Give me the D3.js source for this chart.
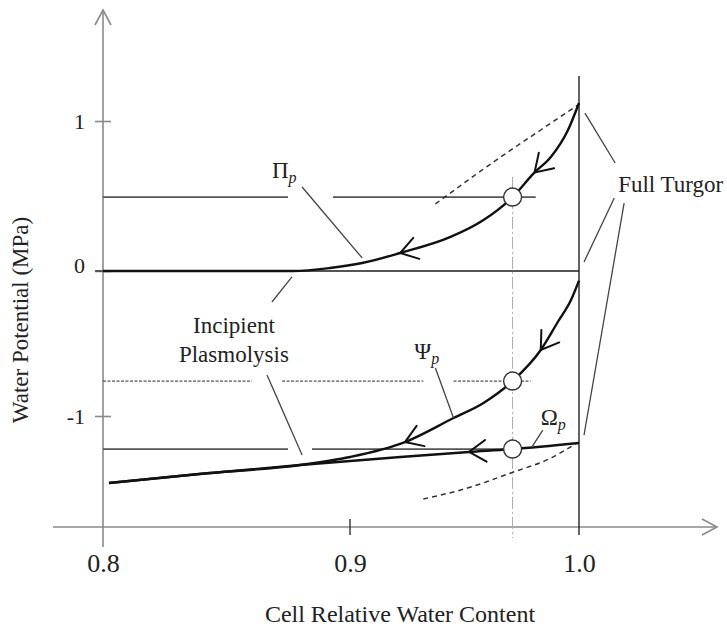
<!DOCTYPE html>
<html>
<head>
<meta charset="utf-8">
<script src="https://cdn.jsdelivr.net/npm/d3@7"></script>
<style>
  html, body { margin: 0; padding: 0; background: #fff; }
  svg { display: block; font-family: "Liberation Serif", "Times New Roman", serif; }
</style>
</head>
<body>
<svg id="chart" width="727" height="641"></svg>
<script>
// ---- data (x = cell relative water content, y = potential in MPa) ----
const xTicks = [0.8, 0.9, 1.0];
const xTickLabels = ["0.8", "0.9", "1.0"];
const yTicks = [1, 0, -1];
const yTickLabels = ["1", "0", "-1"];

// turgor (pressure) potential curve
const piX = [0.8, 0.8769, 0.8919, 0.9053, 0.9219, 0.9439, 0.9583, 0.971, 0.9803, 0.9877, 0.9952, 1.0];
const piY = [0, 0, 0.02, 0.053, 0.12, 0.227, 0.34, 0.493, 0.653, 0.76, 0.94, 1.12];

// water potential curve
const psiX = [0.8024, 0.839, 0.8798, 0.9, 0.924, 0.9452, 0.9583, 0.971, 0.9833, 0.9908, 0.9965, 1.0];
const psiY = [-1.462, -1.4, -1.338, -1.283, -1.18, -1.014, -0.91, -0.759, -0.545, -0.35, -0.2, -0.066];

// osmotic potential line
const omX = [0.8024, 0.839, 0.8798, 0.922, 0.952, 0.971, 1.0];
const omY = [-1.462, -1.4, -1.338, -1.283, -1.248, -1.228, -1.186];

// dashed guide curves
const upperDashX = [0.9373, 0.9658, 0.9833, 0.9996];
const upperDashY = [0.447, 0.76, 0.94, 1.107];
const lowerDashX = [0.932, 0.9513, 0.9702, 0.9877, 0.9991];
const lowerDashY = [-1.572, -1.497, -1.393, -1.29, -1.186];

// sampled state
const stateX = 0.971;
const stateY = [0.493, -0.759, -1.228];

// chevron positions along each curve (x value of the tip)
const piArrows = [0.9219, 0.9806];
const psiArrows = [0.924, 0.9833];
const omArrows = [0.952];

// ---- layout ----
const svg = d3.select("#chart");
const x = d3.scaleLinear().domain([0.8, 0.9, 1.0]).range([103, 350, 579]);
const y = d3.scaleLinear().domain([-1, 0, 1]).range([416, 271, 121]);

const zip = (xs, ys) => xs.map((v, i) => [v, ys[i]]);
const line = d3.line().x(d => x(d[0])).y(d => y(d[1])).curve(d3.curveMonotoneX);
const seg = (g, x1, y1, x2, y2) => g.append("line")
  .attr("x1", x(x1)).attr("y1", y(y1)).attr("x2", x(x2)).attr("y2", y(y2));

// ---- axes ----
const axisG = svg.append("g").attr("stroke", "#8a8a8a").attr("stroke-width", 1.6).attr("fill", "none");
// vertical axis with open arrow head
axisG.append("line").attr("x1", x(0.8)).attr("x2", x(0.8)).attr("y1", 10).attr("y2", 547);
axisG.append("path").attr("d", `M${x(0.8) - 8},25 L${x(0.8)},10 L${x(0.8) + 8},25`);
// horizontal axis with open arrow head
axisG.append("line").attr("x1", 53).attr("x2", 717).attr("y1", 527).attr("y2", 527);
axisG.append("path").attr("d", `M702,519 L717,527 L702,535`);

// x axis labels through d3 axis
const xAxis = d3.axisBottom(x).tickValues(xTicks).tickFormat((d, i) => xTickLabels[i]).tickSize(0).tickPadding(27);
const gx = svg.append("g").attr("transform", "translate(0,527)").call(xAxis);
gx.select(".domain").remove();
gx.selectAll("text").attr("font-size", 26).attr("font-family", "Liberation Serif").attr("fill", "#222");

// y axis labels through d3 axis
const yAxis = d3.axisLeft(y).tickValues(yTicks).tickFormat((d, i) => yTickLabels[i]).tickSize(8).tickPadding(10);
const gy = svg.append("g").attr("transform", `translate(${x(0.8)},0)`).call(yAxis);
gy.select(".domain").remove();
gy.selectAll("line").attr("stroke", "#8a8a8a").attr("stroke-width", 1.6).attr("x2", 8).attr("x1", -8);
gy.selectAll("text").attr("font-size", 22).attr("font-family", "Liberation Serif").attr("fill", "#222");
gy.selectAll(".tick").filter(d => d === 0).select("text").attr("dy", "0.05em");

// 0.9 tick
svg.append("line").attr("x1", x(0.9)).attr("x2", x(0.9)).attr("y1", 519).attr("y2", 535)
  .attr("stroke", "#333").attr("stroke-width", 1.4);

// ---- reference lines ----
const ref = svg.append("g").attr("fill", "none");
// zero line
seg(ref, 0.7968, 0, 1.0, 0).attr("stroke", "#555").attr("stroke-width", 2);
// full turgor vertical
ref.append("line").attr("x1", x(1.0)).attr("x2", x(1.0)).attr("y1", y(1.3)).attr("y2", 535)
  .attr("stroke", "#222").attr("stroke-width", 1.4);
// sampled state dash-dot vertical
ref.append("line").attr("x1", x(stateX)).attr("x2", x(stateX)).attr("y1", y(0.627)).attr("y2", 538)
  .attr("stroke", "#aaa").attr("stroke-width", 1).attr("stroke-dasharray", "12,3,2,3");
// turgor level
const gPi = ref.append("g").attr("stroke", "#555").attr("stroke-width", 1.8);
seg(gPi, 0.8, stateY[0], 0.8749, stateY[0]);
seg(gPi, 0.8931, stateY[0], 0.9811, stateY[0]);
// water potential level (dotted)
const gPsi = ref.append("g").attr("stroke", "#555").attr("stroke-width", 1.2).attr("stroke-dasharray", "3,1.5");
seg(gPsi, 0.8, stateY[1], 0.8603, stateY[1]);
seg(gPsi, 0.8725, stateY[1], 0.932, stateY[1]);
seg(gPsi, 0.9452, stateY[1], 0.9789, stateY[1]);
// osmotic level
const gOm = ref.append("g").attr("stroke", "#555").attr("stroke-width", 1.8);
seg(gOm, 0.8, stateY[2], 0.8749, stateY[2]);
seg(gOm, 0.8846, stateY[2], 0.967, stateY[2]);

// ---- dashed guides ----
svg.append("path").attr("d", line(zip(upperDashX, upperDashY)))
  .attr("fill", "none").attr("stroke", "#333").attr("stroke-width", 1.5).attr("stroke-dasharray", "5,4");
svg.append("path").attr("d", line(zip(lowerDashX, lowerDashY)))
  .attr("fill", "none").attr("stroke", "#333").attr("stroke-width", 1.5).attr("stroke-dasharray", "5,4");

// ---- curves with direction chevrons ----
function curve(xs, ys, arrows, width) {
  const p = svg.append("path").attr("d", line(zip(xs, ys)))
    .attr("fill", "none").attr("stroke", "#111").attr("stroke-width", width).attr("stroke-linejoin", "round");
  const node = p.node();
  const total = node.getTotalLength();
  arrows.forEach(v => {
    const target = x(v);
    let lo = 0, hi = total;
    for (let k = 0; k < 40; k++) {
      const mid = (lo + hi) / 2;
      if (node.getPointAtLength(mid).x < target) lo = mid; else hi = mid;
    }
    const L = lo;
    const tip = node.getPointAtLength(L);
    const a = node.getPointAtLength(Math.max(0, L - 2));
    const b = node.getPointAtLength(Math.min(total, L + 2));
    const ang = Math.atan2(b.y - a.y, b.x - a.x); // pointing toward higher x (behind the tip)
    const len = 20, spread = 33 * Math.PI / 180;
    const e1 = [tip.x + len * Math.cos(ang - spread), tip.y + len * Math.sin(ang - spread)];
    const e2 = [tip.x + len * Math.cos(ang + spread), tip.y + len * Math.sin(ang + spread)];
    svg.append("path").attr("d", `M${e1[0]},${e1[1]} L${tip.x},${tip.y} L${e2[0]},${e2[1]}`)
      .attr("fill", "none").attr("stroke", "#111").attr("stroke-width", 2).attr("stroke-linecap", "round");
  });
}
curve(omX, omY, omArrows, 2.4);
curve(psiX, psiY, psiArrows, 2.4);
curve(piX, piY, piArrows, 2.4);

// state markers
svg.selectAll("circle.state").data(stateY).join("circle").attr("class", "state")
  .attr("cx", x(stateX)).attr("cy", d => y(d)).attr("r", 9)
  .attr("fill", "#fff").attr("stroke", "#333").attr("stroke-width", 1.4);

// ---- annotations ----
const lead = svg.append("g").attr("stroke", "#444").attr("stroke-width", 1.3);
seg(lead, 0.8806, 0.56, 0.9053, 0.087);       // turgor label
seg(lead, 1.0026, 1.053, 1.0158, 0.72);       // full turgor -> turgor curve
seg(lead, 1.0154, 0.487, 1.0022, 0.06);       // full turgor -> zero line
seg(lead, 1.0197, 0.453, 1.0022, -1.131);     // full turgor -> osmotic line
seg(lead, 0.8684, -0.214, 0.8765, -0.041);    // incipient plasmolysis, upper
seg(lead, 0.8664, -0.717, 0.8806, -1.269);    // incipient plasmolysis, lower
seg(lead, 0.9373, -0.669, 0.9452, -1.014);    // water potential label
seg(lead, 0.9842, -1.097, 0.9794, -1.214);    // osmotic label

const txt = svg.append("g").attr("fill", "#222").attr("font-family", "Liberation Serif");
function symbol(sym, xv, yv) {
  const t = txt.append("text").attr("x", x(xv)).attr("y", y(yv)).attr("font-size", 23);
  t.append("tspan").text(sym);
  t.append("tspan").attr("font-style", "italic").attr("font-size", 16).attr("dy", 5).text("p");
}
symbol("Π", 0.8684, 0.62);
symbol("Ψ", 0.9281, -0.607);
symbol("Ω", 0.9833, -1.062);

txt.append("text").attr("x", x(1.0171)).attr("y", y(0.527)).attr("font-size", 23).text("Full Turgor");
txt.append("text").attr("x", x(0.853)).attr("y", y(-0.428)).attr("font-size", 23)
  .attr("text-anchor", "middle").text("Incipient");
txt.append("text").attr("x", x(0.853)).attr("y", y(-0.628)).attr("font-size", 23)
  .attr("text-anchor", "middle").text("Plasmolysis");

// axis titles
txt.append("text").attr("x", 400).attr("y", 622).attr("font-size", 24)
  .attr("text-anchor", "middle").text("Cell Relative Water Content");
txt.append("text").attr("transform", "translate(28,320) rotate(-90)").attr("font-size", 23)
  .attr("text-anchor", "middle").text("Water Potential (MPa)");
</script>
</body>
</html>
